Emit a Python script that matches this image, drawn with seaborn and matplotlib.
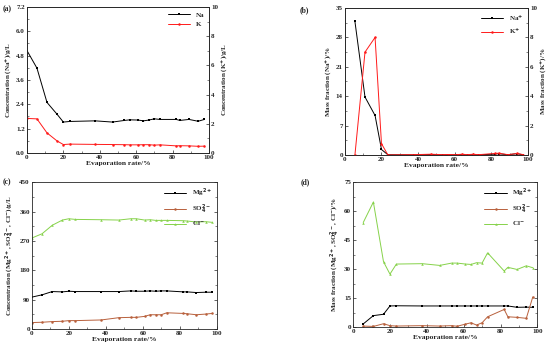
import numpy as np
import pandas as pd
import seaborn as sns
import matplotlib.pyplot as plt
from matplotlib.ticker import MultipleLocator, AutoMinorLocator

# evaporation rate (%) sampling points
evap = [0, 5.5, 11, 16.5, 20, 23.5, 37.5, 47, 53.5, 56.5, 61, 64, 67, 70, 73, 82, 84, 89, 94, 97.5]
evap_b = evap[1:]

# (a) concentration, g/L
na_conc = [5.05, 4.18, 2.49, 1.91, 1.52, 1.55, 1.58, 1.52, 1.60, 1.63, 1.62, 1.58, 1.62, 1.68, 1.65,
           1.65, 1.60, 1.65, 1.56, 1.65]
k_conc = [2.36, 2.33, 1.37, 0.82, 0.57, 0.60, 0.58, 0.57, 0.56, 0.55, 0.55, 0.56, 0.56, 0.53, 0.55,
          0.48, 0.49, 0.48, 0.45, 0.46]

# (b) mass fraction, %
na_frac = [31.8, 13.8, 9.4, 1.3, 0.05, 0.02, 0.1, 0.02, 0.05, 0.03, 0.1, 0.02, 0.05, 0.03,
           0.2, 0.3, 0.05, 0.3, 0.03]
k_frac = [0.0, 7.0, 8.0, 0.77, 0.0, 0.02, 0.05, 0.02, 0.03, 0.02, 0.05, 0.02, 0.05, 0.02,
          0.1, 0.12, 0.02, 0.1, 0.02]

# (c) concentration, g/L
mg_conc = [98, 105, 115, 114, 116, 115, 115, 115, 117, 116, 116, 117, 116, 117, 117, 114, 114, 112, 113, 113]
so4_conc = [20, 21, 23, 24, 26, 26, 28, 35, 36, 36, 39, 44, 44, 44, 50, 48, 47, 44, 46, 48]
cl_conc = [279, 292, 318, 334, 338, 336, 335, 334, 338, 338, 334, 335, 333, 333, 333, 332, 331, 328, 329, 327]

# (d) mass fraction, %
mg_frac = [1.6, 5.9, 6.6, 10.9, 11.0, 10.9, 10.9, 10.9, 10.9, 10.9, 10.9, 10.9, 10.9, 10.9,
           10.9, 10.9, 10.2, 10.3, 10.2]
so4_frac = [0.5, 0.3, 1.7, 0.7, 0.5, 0.7, 0.5, 0.7, 0.4, 1.5, 2.2, 1.0, 2.2, 5.3, 9.1, 5.3, 5.0, 4.5, 15.5]
cl_frac = [54.1, 64.7, 33.8, 27.4, 32.6, 32.8, 31.9, 33.1, 33.1, 32.6, 32.4, 33.3, 33.1, 38.4,
           29.0, 30.9, 29.8, 31.7, 30.7]

sns.set_style('ticks')
plt.rcParams['font.family'] = ['Liberation Serif', 'DejaVu Serif']
plt.rcParams['font.weight'] = 'bold'
plt.rcParams['axes.labelweight'] = 'bold'
plt.rcParams['mathtext.default'] = 'bf'
plt.rcParams['axes.linewidth'] = 0.6

FS = 5.0
RED = '#ff1a1a'
BROWN = '#b8603c'
GREEN = '#86d24a'

fig = plt.figure(figsize=(5.5, 3.49), dpi=100)


def style_axis(ax, ymax, ystep, label, right=False):
    ax.set_ylim(0, ymax)
    ax.yaxis.set_major_locator(MultipleLocator(ystep))
    ax.yaxis.set_minor_locator(AutoMinorLocator(2))
    ax.tick_params(axis='both', which='major', direction='in', length=2, width=0.5,
                   labelsize=FS, pad=1.5)
    ax.tick_params(axis='both', which='minor', direction='in', length=1.2, width=0.4)
    ax.set_ylabel(label, fontsize=FS, labelpad=0.8 if right else 1.5)
    if right:
        ax.yaxis.set_label_position('right')


def style_x(ax):
    ax.set_xlim(0, 100)
    ax.xaxis.set_major_locator(MultipleLocator(20))
    ax.xaxis.set_minor_locator(AutoMinorLocator(2))
    ax.set_xlabel('Evaporation rate/%', fontsize=FS + 0.4, labelpad=0.5)


def legend(ax, handles, labels):
    ax.legend(handles, labels, loc='upper right', frameon=False, fontsize=FS,
              handlelength=3.2, borderaxespad=0.3, labelspacing=0.5)


# ---------- (a) ----------
ax_a = fig.add_axes([0.049, 0.562, 0.331, 0.418])
ax_a2 = ax_a.twinx()
sns.lineplot(x=evap, y=na_conc, ax=ax_a, color='black', marker='s', markersize=1.8,
             markeredgewidth=0, linewidth=0.7)
sns.lineplot(x=evap, y=k_conc, ax=ax_a2, color=RED, marker='o', markersize=1.8,
             markeredgewidth=0, linewidth=0.7)
style_x(ax_a)
style_axis(ax_a, 7.2, 1.2, 'Concentration (Na$^{+}$)/g/L')
style_axis(ax_a2, 10, 2, 'Concentration (K$^{+}$)/g/L', right=True)
ax_a.yaxis.set_major_formatter(plt.FormatStrFormatter('%.1f'))
legend(ax_a, ax_a.lines[:1] + ax_a2.lines[:1], ['Na', 'K'])
fig.text(0.004, 0.973, '(a)', fontsize=FS + 0.5, fontweight='bold', va='center')

# ---------- (b) ----------
ax_b = fig.add_axes([0.627, 0.556, 0.333, 0.421])
ax_b2 = ax_b.twinx()
sns.lineplot(x=evap_b, y=na_frac, ax=ax_b, color='black', marker='s', markersize=1.8,
             markeredgewidth=0, linewidth=0.7)
sns.lineplot(x=evap_b, y=k_frac, ax=ax_b2, color=RED, marker='o', markersize=1.8,
             markeredgewidth=0, linewidth=0.7)
style_x(ax_b)
style_axis(ax_b, 35, 7, 'Mass fraction (Na$^{+}$)/%')
style_axis(ax_b2, 10, 2, 'Mass fraction (K$^{+}$)/%', right=True)
legend(ax_b, ax_b.lines[:1] + ax_b2.lines[:1], ['Na$^{+}$', 'K$^{+}$'])
fig.text(0.545, 0.97, '(b)', fontsize=FS + 0.5, fontweight='bold', va='center')

# ---------- (c) ----------
ax_c = fig.add_axes([0.058, 0.057, 0.336, 0.421])
for vals, col, mk in [(mg_conc, 'black', 's'), (so4_conc, BROWN, 'o'), (cl_conc, GREEN, '^')]:
    sns.lineplot(x=evap, y=vals, ax=ax_c, color=col, marker=mk, markersize=1.8,
                 markeredgewidth=0, linewidth=0.7)
style_x(ax_c)
style_axis(ax_c, 450, 90, 'Concentration (Mg$^{2+}$, SO$_4^{2-}$, Cl$^{-}$)/g/L')
ax_c.tick_params(right=True, which='both')
legend(ax_c, ax_c.lines[:3], ['Mg$^{2+}$', 'SO$_4^{2-}$', 'Cl$^{-}$'])
fig.text(0.004, 0.478, '(c)', fontsize=FS + 0.5, fontweight='bold', va='center')

# ---------- (d) ----------
ax_d = fig.add_axes([0.642, 0.063, 0.335, 0.415])
for vals, col, mk in [(mg_frac, 'black', 's'), (so4_frac, BROWN, 'o'), (cl_frac, GREEN, '^')]:
    sns.lineplot(x=evap_b, y=vals, ax=ax_d, color=col, marker=mk, markersize=1.8,
                 markeredgewidth=0, linewidth=0.7)
style_x(ax_d)
style_axis(ax_d, 75, 15, 'Mass fraction (Mg$^{2+}$, SO$_4^{2-}$, Cl$^{-}$)/%')
ax_d.tick_params(right=True, which='both')
legend(ax_d, ax_d.lines[:3], ['Mg$^{2+}$', 'SO$_4^{2-}$', 'Cl$^{-}$'])
fig.text(0.547, 0.478, '(d)', fontsize=FS + 0.5, fontweight='bold', va='center')

fig.savefig('out.png', dpi=100, facecolor='white')
